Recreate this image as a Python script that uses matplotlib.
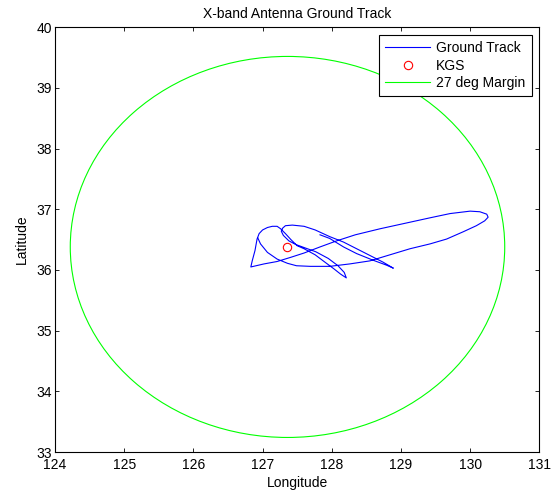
#!/usr/bin/env python3
"""
X-band antenna ground track around the KGS ground station
"""

import matplotlib
matplotlib.use('Agg')
import matplotlib.pyplot as plt
from matplotlib.patches import Circle
from matplotlib.lines import Line2D

# ground track (deg)
track_lon = [127.83, 127.97, 128.17, 128.36, 128.60, 128.79, 128.89, 128.74, 128.55, 128.36,
             128.17, 127.97, 127.76, 127.60, 127.43, 127.33, 127.29, 127.27, 127.30, 127.38,
             127.48, 127.60, 127.77, 127.95, 128.09, 128.18, 128.21, 128.13, 128.03, 127.90,
             127.76, 127.60, 127.50, 127.41, 127.33, 127.26, 127.21, 127.14, 127.07, 127.00,
             126.95, 126.92, 126.89, 126.85, 126.83, 127.02, 127.21, 127.41, 127.60, 127.83,
             128.07, 128.34, 128.70, 129.06, 129.42, 129.71, 130.00, 130.14, 130.24, 130.26,
             130.21, 130.09, 129.90, 129.66, 129.42, 129.13, 128.84, 128.55, 128.26, 127.97,
             127.69, 127.49, 127.36, 127.21, 127.07, 126.97, 126.93]
track_lat = [36.58, 36.52, 36.38, 36.27, 36.16, 36.08, 36.03, 36.13, 36.24, 36.35,
             36.46, 36.55, 36.66, 36.72, 36.74, 36.73, 36.69, 36.64, 36.57, 36.48,
             36.42, 36.37, 36.30, 36.19, 36.07, 35.96, 35.87, 35.93, 36.02, 36.13,
             36.25, 36.35, 36.40, 36.50, 36.60, 36.68, 36.72, 36.72, 36.70, 36.66,
             36.60, 36.51, 36.32, 36.15, 36.05, 36.10, 36.14, 36.21, 36.28, 36.38,
             36.48, 36.58, 36.68, 36.77, 36.86, 36.93, 36.97, 36.96, 36.92, 36.87,
             36.81, 36.73, 36.63, 36.51, 36.43, 36.35, 36.25, 36.15, 36.10, 36.06,
             36.06, 36.07, 36.11, 36.18, 36.29, 36.43, 36.53]

# ground station
kgs_lon = 127.36
kgs_lat = 36.38

# 27 deg elevation margin (radius in degrees)
margin_radius = 3.14

x_ticks = [124, 125, 126, 127, 128, 129, 130, 131]
y_ticks = [33, 34, 35, 36, 37, 38, 39, 40]

plt.rcParams['font.family'] = ['Liberation Sans', 'DejaVu Sans']
plt.rcParams['font.size'] = 10

fig = plt.figure(figsize=(5.56, 4.91), dpi=100)
ax = fig.add_axes([0.099, 0.0794, 0.871, 0.8650])

ax.plot(track_lon, track_lat, color='#0000ff', linewidth=0.8)
ax.plot(kgs_lon, kgs_lat, 'o', markerfacecolor='none', markeredgecolor='#ff0000',
        markersize=6, markeredgewidth=0.8)
ax.add_patch(Circle((kgs_lon, kgs_lat), margin_radius, fill=False,
                    edgecolor='#00ff00', linewidth=0.8))

ax.set_xlim(x_ticks[0], x_ticks[-1])
ax.set_ylim(y_ticks[0], y_ticks[-1])
ax.set_xticks(x_ticks)
ax.set_yticks(y_ticks)
ax.tick_params(direction='in', top=True, right=True, length=3, width=0.6,
               labelsize=10)
ax.tick_params(axis='x', pad=4.5)
ax.tick_params(axis='y', pad=2)
for s in ax.spines.values():
    s.set_linewidth(0.8)

ax.set_title('X-band Antenna Ground Track', fontsize=10, pad=7)
ax.set_xlabel('Longitude', fontsize=10, labelpad=3)
ax.set_ylabel('Latitude', fontsize=10, labelpad=6)

handles = [
    Line2D([], [], color='#0000ff', linewidth=0.8),
    Line2D([], [], linestyle='none', marker='o', markerfacecolor='none',
           markeredgecolor='#ff0000', markersize=6, markeredgewidth=0.8),
    Line2D([], [], color='#00ff00', linewidth=0.8),
]
leg = ax.legend(handles, ['Ground Track', 'KGS', '27 deg Margin'],
                loc='upper right', bbox_to_anchor=(0.984, 0.982), borderaxespad=0,
                fancybox=False, edgecolor='black', framealpha=1, fontsize=10,
                handlelength=3.2, handletextpad=0.45, labelspacing=0.25, borderpad=0.45)
leg.get_frame().set_linewidth(0.8)

fig.savefig('out.png', dpi=100)
